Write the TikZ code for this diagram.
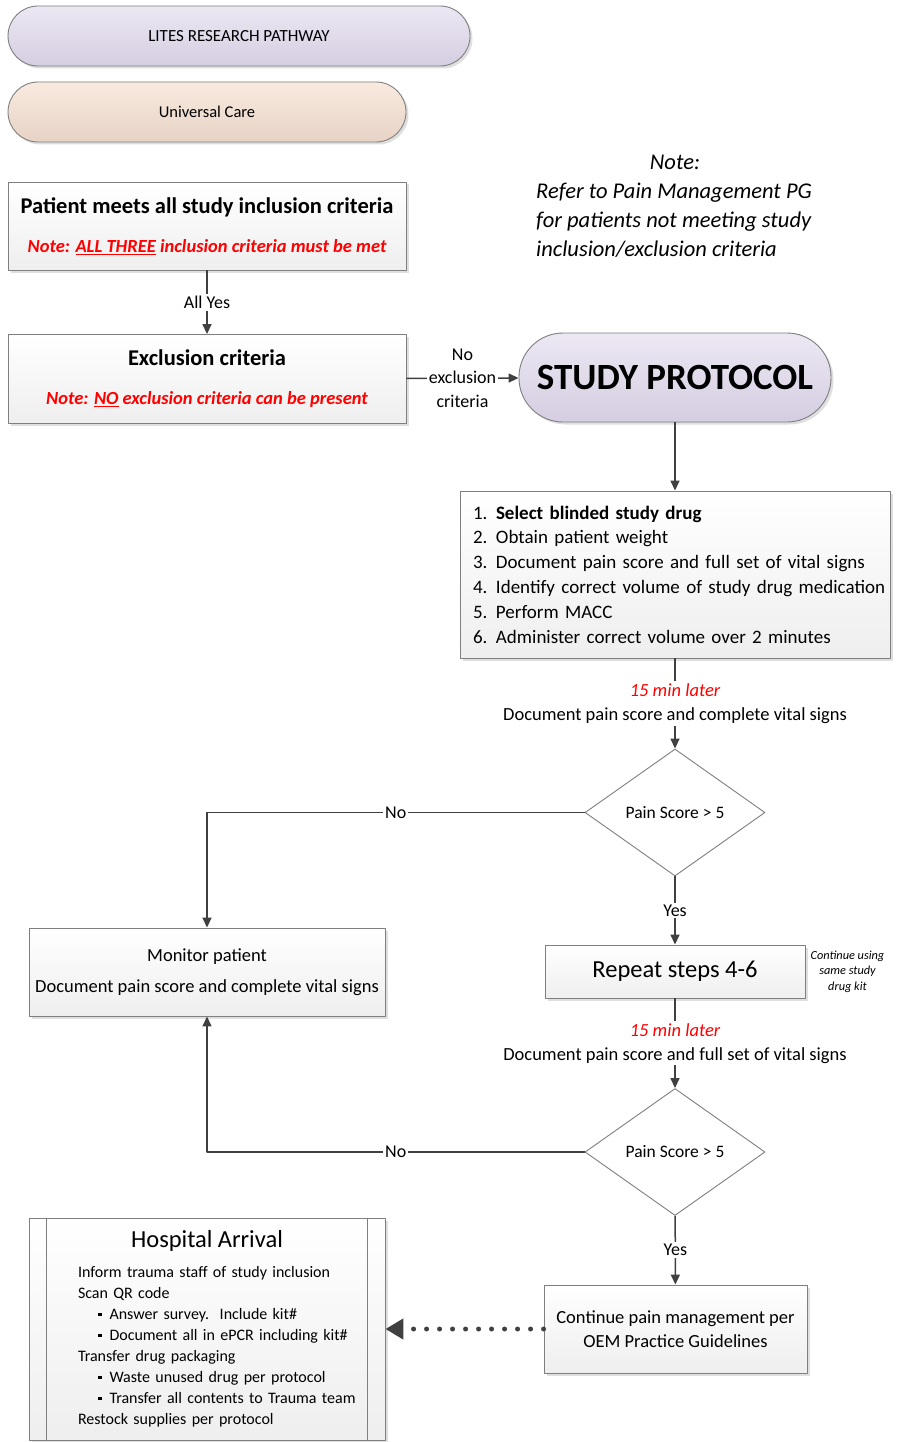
\documentclass[tikz,border=0pt]{standalone}
\usepackage{fontspec}
\setmainfont{Carlito}
\usetikzlibrary{arrows.meta,shapes.geometric,shadows,positioning}

\definecolor{lineg}{HTML}{404040}
\definecolor{boxline}{HTML}{7F7F7F}
\definecolor{lavtop}{HTML}{ECE8F3}
\definecolor{lavbot}{HTML}{D5CDE1}
\definecolor{peachtop}{HTML}{F9EADF}
\definecolor{peachbot}{HTML}{E7D3C6}
\definecolor{notered}{HTML}{FF0000}

\newcommand{\fsz}[2]{\fontsize{#1}{#2}\selectfont}
\newcommand{\hin}{\hspace*{21pt}}
\newcommand{\hbul}{\hspace*{41pt}\rule[3.5pt]{3.5pt}{3.5pt}\hspace{8pt}}
\newcommand{\stepno}[1]{\makebox[36pt][l]{\hspace*{13pt}#1.}}

\tikzset{
  box/.style={draw=boxline, line width=0.9pt, top color=white, bottom color=gray!13,
    drop shadow={shadow xshift=2.5pt, shadow yshift=-2.5pt, fill=gray!70, opacity=0.35},
    inner sep=0pt, align=center},
  lavpill/.style={box, top color=lavtop, bottom color=lavbot, rounded corners=#1},
  peachpill/.style={box, top color=peachtop, bottom color=peachbot, rounded corners=#1},
  decision/.style={draw=boxline, line width=0.9pt, fill=white, shape=diamond, aspect=1.42,
    minimum width=180pt, minimum height=127pt, inner sep=0pt, font=\fsz{17.5}{21}},
  arr/.style={draw=lineg, line width=1.5pt, -{Triangle[length=10pt,width=9pt]}},
  dotarr/.style={draw=lineg, line width=5pt, line cap=round, dash pattern=on 0pt off 13pt,
    -{Triangle[length=18pt,width=20pt]}},
  lbl/.style={fill=white, inner sep=2pt, text=black, align=center, font=\fsz{18}{23.5}},
  twolbl/.style={lbl, font=\fsz{18.5}{24}},
}

\begin{document}
\begin{tikzpicture}[x=1pt, y=-1pt, line join=round]
  \useasboundingbox (0,0) rectangle (898,1442);
  \fill[white] (0,0) rectangle (898,1442);

  % legend
  \node[lavpill=30pt, minimum width=462pt, minimum height=60pt, font=\fsz{17}{20}] (lites) at (239,36) {LITES RESEARCH PATHWAY};
  \node[peachpill=30pt, minimum width=398pt, minimum height=60pt, font=\fsz{16.5}{20}] (ucare) at (207,112) {Universal Care};

  % note at top right
  \node[font=\fsz{22.5}{29}\itshape] (notehead) at (675,162) {Note:};
  \node[anchor=north west, align=left, inner sep=0pt, font=\fsz{22.5}{29}\itshape] (notebody) at (536,183)
    {Refer to Pain Management PG\\for patients not meeting study\\inclusion/exclusion criteria};

  % criteria
  \node[box, minimum width=398pt, minimum height=88pt, font=\fsz{18.5}{22}] (incl) at (207,226)
    {{\fsz{22.5}{27}\bfseries Patient meets all study inclusion criteria}\\[17pt]
     {\color{notered}\bfseries\itshape Note: \underline{ALL THREE} inclusion criteria must be met}};
  \node[box, minimum width=398pt, minimum height=89pt, font=\fsz{18.5}{22}] (excl) at (207,379)
    {{\fsz{22.5}{27}\bfseries Exclusion criteria}\\[17pt]
     {\color{notered}\bfseries\itshape Note: \underline{NO} exclusion criteria can be present}};

  \node[lavpill=44pt, minimum width=312pt, minimum height=89pt, font=\fsz{37}{42}\bfseries] (proto) at (675,377.5) {STUDY PROTOCOL};

  % protocol steps
  \node[box, minimum width=430pt, minimum height=167pt, text width=430pt, align=left, font=\fsz{19}{24.8}] (steps) at (675,574.5)
    {\stepno{1}\textbf{Select blinded study drug}\\
     \stepno{2}Obtain patient weight\\
     \stepno{3}Document pain score and full set of vital signs\\
     \stepno{4}Identify correct volume of study drug medication\\
     \stepno{5}Perform MACC\\
     \stepno{6}Administer correct volume over 2 minutes};

  \node[decision] (pain1) at (675,812.5) {Pain Score > 5};
  \node[box, minimum width=356pt, minimum height=88pt, font=\fsz{18.5}{31}] (monitor) at (207,972)
    {Monitor patient\\Document pain score and complete vital signs};
  \node[box, minimum width=260pt, minimum height=53pt, font=\fsz{24.5}{28}] (repeat) at (675,971.5) {Repeat steps 4-6};
  \node[right=5pt of repeat, align=center, inner sep=0pt, font=\fsz{12.3}{15.5}\itshape] (kitnote)
    {Continue using\\same study\\drug kit};
  \node[decision] (pain2) at (675,1152) {Pain Score > 5};
  \node[box, minimum width=263pt, minimum height=88pt, font=\fsz{18.5}{24}] (cont) at (675.5,1329)
    {Continue pain management per\\OEM Practice Guidelines};

  % hospital arrival
  \node[box, minimum width=356pt, minimum height=222pt, text width=300pt, align=left, font=\fsz{16}{21}] (hosp) at (207,1329)
    {{\centering\fsz{24.5}{30}Hospital Arrival\par}\vspace{9pt}
     \hin Inform trauma staff of study inclusion\\
     \hin Scan QR code\\
     \hbul Answer survey.\ \ Include kit\#\\
     \hbul Document all in ePCR including kit\#\\
     \hin Transfer drug packaging\\
     \hbul Waste unused drug per protocol\\
     \hbul Transfer all contents to Trauma team\\
     \hin Restock supplies per protocol};
  \draw[boxline, line width=0.9pt] ([xshift=18pt]hosp.north west) -- ([xshift=18pt]hosp.south west);
  \draw[boxline, line width=0.9pt] ([xshift=-18pt]hosp.north east) -- ([xshift=-18pt]hosp.south east);

  % connectors
  \draw[arr] (incl) -- node[lbl] {All Yes} (excl);
  \draw[arr] (excl) -- node[lbl] {No\\exclusion\\criteria} (proto);
  \draw[arr] (proto) -- (steps);
  \draw[arr] (steps) -- node[twolbl] {{\color{notered}\itshape 15 min later}\\Document pain score and complete vital signs} (pain1);
  \draw[arr] (pain1.west) -| node[lbl, pos=0.25] {No} (monitor.north);
  \draw[arr] (pain1) -- node[lbl] {Yes} (repeat);
  \draw[arr] (repeat) -- node[twolbl] {{\color{notered}\itshape 15 min later}\\Document pain score and full set of vital signs} (pain2);
  \draw[arr] (pain2.west) -| node[lbl, pos=0.25] {No} (monitor.south);
  \draw[arr] (pain2) -- node[lbl] {Yes} (cont);
  \draw[dotarr] (cont) -- (hosp);
\end{tikzpicture}
\end{document}
